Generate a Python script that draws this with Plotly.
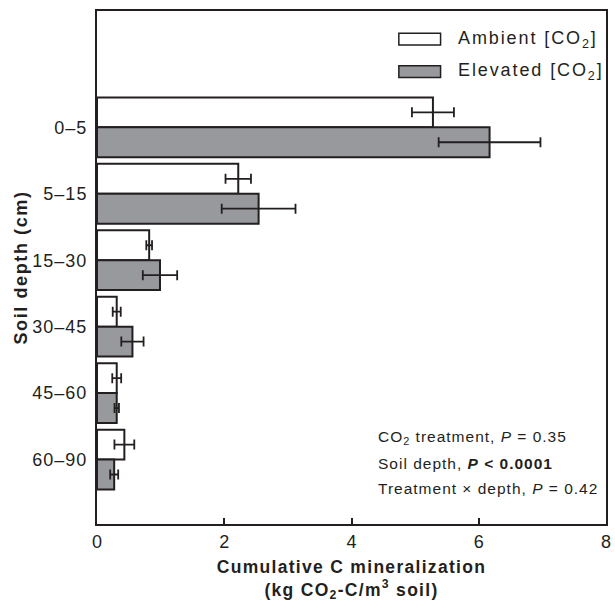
import plotly.graph_objects as go

depths = ["0–5", "5–15", "15–30", "30–45", "45–60", "60–90"]
ambient = [5.28, 2.22, 0.82, 0.31, 0.31, 0.43]
ambient_err = [0.33, 0.20, 0.045, 0.063, 0.07, 0.156]
elevated = [6.17, 2.54, 0.99, 0.557, 0.31, 0.27]
elevated_err = [0.80, 0.58, 0.27, 0.175, 0.035, 0.063]
x_ticks = [0, 2, 4, 6, 8]

INK = "#231f20"
GRAY = "#98999c"
FONT = "Liberation Sans, Arial, sans-serif"


def sp(text, px):
    return f'<span style="letter-spacing:{px}px">{text}</span>'


fig = go.Figure()
fig.add_trace(go.Bar(
    y=depths, x=ambient, orientation="h", name="Ambient [CO2]",
    marker=dict(color="white", line=dict(color=INK, width=2)),
    error_x=dict(type="data", array=ambient_err, color=INK, thickness=1.8, width=5),
    showlegend=False,
))
fig.add_trace(go.Bar(
    y=depths, x=elevated, orientation="h", name="Elevated [CO2]",
    marker=dict(color=GRAY, line=dict(color=INK, width=2)),
    error_x=dict(type="data", array=elevated_err, color=INK, thickness=1.8, width=5),
    showlegend=False,
))

# manual legend (wide swatches as in the reference)
legend_items = [("Ambient [CO<sub>2</sub>]", "white", 0.945), ("Elevated [CO<sub>2</sub>]", GRAY, 0.882)]
for label, fill, yc in legend_items:
    fig.add_shape(type="rect", xref="paper", yref="paper",
                  x0=0.593, x1=0.675, y0=yc - 0.0115, y1=yc + 0.0115,
                  fillcolor=fill, line=dict(color=INK, width=1.5))
    fig.add_annotation(xref="paper", yref="paper", x=0.706, y=yc, xanchor="left", yanchor="middle",
                       text=sp(label, 1.9), showarrow=False, font=dict(family=FONT, size=18, color=INK))

stats = [
    "CO<sub>2</sub> treatment, <i>P</i> = 0.35",
    "Soil depth, <b><i>P</i> < 0.0001</b>",
    "Treatment × depth, <i>P</i> = 0.42",
]
for i, s in enumerate(stats):
    fig.add_annotation(xref="paper", yref="paper", x=0.548, y=0.168 - i * 0.0495,
                       xanchor="left", yanchor="middle", text=sp(s, 1.0), showarrow=False,
                       font=dict(family=FONT, size=15.5, color=INK))

fig.update_layout(
    width=615, height=603,
    margin=dict(l=97, r=4, t=11, b=79),
    barmode="group", bargap=0.1, bargroupgap=0,
    plot_bgcolor="white", paper_bgcolor="white",
    font=dict(family=FONT, size=18, color=INK),
    xaxis=dict(
        range=[0, 8], tickvals=x_ticks, ticktext=[str(v) for v in x_ticks],
        ticks="inside", ticklen=6, tickwidth=1.5, tickcolor=INK,
        showline=True, linewidth=2, linecolor=INK, mirror=True,
        showgrid=False, zeroline=False,
        tickfont=dict(size=18, color=INK),
        title=dict(text="<b>" + sp("Cumulative C mineralization<br>(kg CO<sub>2</sub>-C/m<sup>3</sup> soil)", 1.3) + "</b>",
                   font=dict(family=FONT, size=17.5, color=INK), standoff=10),
    ),
    yaxis=dict(
        range=[5.97, -1.75], type="category",
        tickvals=depths, ticktext=[sp(d, 1.0) for d in depths],
        ticks="", showline=True, linewidth=2, linecolor=INK, mirror=True,
        showgrid=False, zeroline=False, ticklabelstandoff=4,
        tickfont=dict(size=18, color=INK),
        title=dict(text="<b>" + sp("Soil depth (cm)", 1.6) + "</b>",
                   font=dict(family=FONT, size=18, color=INK), standoff=0),
    ),
)

fig.write_html("out.html")
